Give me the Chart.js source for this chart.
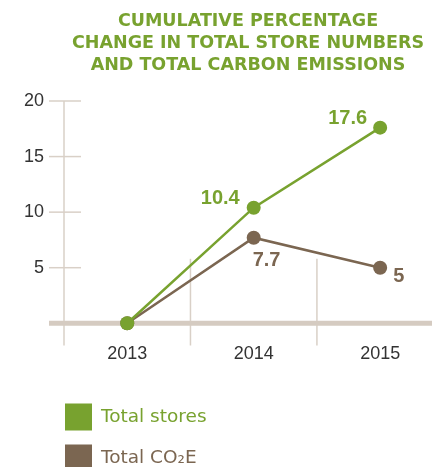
<!DOCTYPE html>
<html>
<head>
<meta charset="utf-8">
<script src="https://cdn.jsdelivr.net/npm/chart.js@4.4.1/dist/chart.umd.min.js"></script>
<style>
  html, body { margin: 0; padding: 0; background: #fff; }
</style>
</head>
<body>
<canvas id="myChart" width="432" height="467"></canvas>
<script>
// years and cumulative % change
const years = [2013, 2014, 2015];
const storesChange = [0, 10.4, 17.6];
const co2Change = [0, 7.7, 5];
const yTickValues = [5, 10, 15, 20];
const seriesNames = ['Total stores', 'Total CO₂E'];
const titleLines = ['CUMULATIVE PERCENTAGE', 'CHANGE IN TOTAL STORE NUMBERS', 'AND TOTAL CARBON EMISSIONS'];

const GREEN = '#78a22f';
const BROWN = '#7b6651';
const RULE = '#d9d0c7';
const TEXT = '#333333';

// where each value label sits relative to its point
const labelPlacement = [
  [null, { dx: -14, dy: -9, align: 'right' }, { dx: -13, dy: -9, align: 'right' }],
  [null, { dx: -1, dy: 23, align: 'left' }, { dx: 13, dy: 9, align: 'left' }]
];

let axisDecor = {
  id: 'axisDecor',
  beforeDatasetsDraw(chart) {
    const ctx = chart.ctx;
    const x = chart.scales.x;
    const y = chart.scales.y;
    const area = chart.chartArea;
    ctx.save();
    ctx.strokeStyle = RULE;
    ctx.lineWidth = 1.5;

    // vertical axis line
    ctx.beginPath();
    ctx.moveTo(area.left, area.top);
    ctx.lineTo(area.left, area.bottom);
    ctx.stroke();

    // tick marks across the axis
    yTickValues.forEach(v => {
      const py = y.getPixelForValue(v);
      ctx.beginPath();
      ctx.moveTo(area.left - 15, py);
      ctx.lineTo(area.left + 17, py);
      ctx.stroke();
    });

    // short separators between years
    for (let i = 0; i < years.length - 1; i++) {
      const px = x.getPixelForValue((years[i] + years[i + 1]) / 2);
      ctx.beginPath();
      ctx.moveTo(px, y.getPixelForValue(5.8));
      ctx.lineTo(px, area.bottom);
      ctx.stroke();
    }

    // zero line
    ctx.lineWidth = 5;
    ctx.strokeStyle = '#d5cbc1';
    const zero = y.getPixelForValue(0);
    ctx.beginPath();
    ctx.moveTo(area.left - 15, zero);
    ctx.lineTo(chart.width, zero);
    ctx.stroke();
    ctx.restore();
  }
};

let valueLabels = {
  id: 'valueLabels',
  afterDatasetsDraw(chart) {
    const ctx = chart.ctx;
    ctx.save();
    ctx.font = 'bold 20px "Liberation Sans", Arial, sans-serif';
    ctx.textBaseline = 'middle';
    chart.data.datasets.forEach((ds, d) => {
      const meta = chart.getDatasetMeta(d);
      meta.data.forEach((pt, i) => {
        const place = labelPlacement[d][i];
        if (!place) return;
        ctx.fillStyle = ds.borderColor;
        ctx.textAlign = place.align;
        ctx.fillText(String(ds.data[i].y), pt.x + place.dx, pt.y + place.dy);
      });
    });
    ctx.restore();
  }
};

let boxLegend = {
  id: 'boxLegend',
  afterDraw(chart) {
    const ctx = chart.ctx;
    const left = chart.chartArea.left + 1;
    let top = chart.chartArea.bottom + 58;
    ctx.save();
    ctx.font = '18.5px "DejaVu Sans", sans-serif';
    ctx.textBaseline = 'middle';
    ctx.textAlign = 'left';
    chart.data.datasets.forEach(ds => {
      ctx.fillStyle = ds.borderColor;
      ctx.fillRect(left, top, 27, 27);
      ctx.fillText(ds.label, left + 36, top + 14);
      top += 41;
    });
    ctx.restore();
  }
};

const toPoints = (vals) => years.map((yr, i) => ({ x: yr, y: vals[i] }));

const ctx = document.getElementById('myChart');

const config = {
  type: 'line',
  data: {
    datasets: [
      {
        label: seriesNames[0],
        data: toPoints(storesChange),
        borderColor: GREEN,
        backgroundColor: GREEN,
        borderWidth: 2.5,
        pointRadius: 7,
        pointBorderWidth: 0,
        tension: 0
      },
      {
        label: seriesNames[1],
        data: toPoints(co2Change),
        borderColor: BROWN,
        backgroundColor: BROWN,
        borderWidth: 2.5,
        pointRadius: 7,
        pointBorderWidth: 0,
        tension: 0
      }
    ]
  },
  options: {
    responsive: false,
    animation: false,
    events: [],
    layout: { padding: 0, autoPadding: false },
    plugins: {
      legend: { display: false },
      tooltip: { enabled: false },
      title: {
        display: true,
        text: titleLines,
        color: GREEN,
        fullSize: false,
        font: { family: '"DejaVu Sans", sans-serif', weight: 'bold', size: 17.5, lineHeight: 22 / 17.5 },
        padding: { top: 10, bottom: 25 }
      }
    },
    scales: {
      x: {
        type: 'linear',
        min: 2012.5,
        max: 2015.41,
        grid: { display: false, drawTicks: false },
        border: { display: false },
        afterBuildTicks: (s) => { s.ticks = years.map(v => ({ value: v })); },
        afterFit: (s) => { s.height = 121.5; },
        ticks: {
          color: TEXT,
          padding: -2,
          font: { family: '"Liberation Sans", Arial, sans-serif', size: 18 },
          callback: (v) => String(v)
        }
      },
      y: {
        min: -2,
        max: 20,
        grid: { display: false, drawTicks: false },
        border: { display: false },
        afterBuildTicks: (s) => { s.ticks = yTickValues.map(v => ({ value: v })); },
        afterFit: (s) => { s.width = 64; },
        ticks: {
          color: TEXT,
          padding: 20,
          font: { family: '"Liberation Sans", Arial, sans-serif', size: 18 }
        }
      }
    }
  },
  plugins: [axisDecor, valueLabels, boxLegend]
};

const chart = new Chart(ctx, config);
</script>
</body>
</html>
